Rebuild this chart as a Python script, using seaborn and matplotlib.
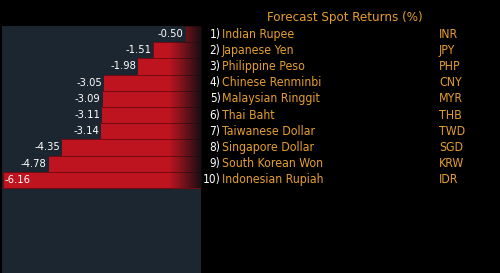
import numpy as np
import pandas as pd
import matplotlib
matplotlib.use("Agg")
import matplotlib.pyplot as plt
import seaborn as sns

# Data
currencies = ["Indian Rupee", "Japanese Yen", "Philippine Peso", "Chinese Renminbi",
              "Malaysian Ringgit", "Thai Baht", "Taiwanese Dollar", "Singapore Dollar",
              "South Korean Won", "Indonesian Rupiah"]
codes = ["INR", "JPY", "PHP", "CNY", "MYR", "THB", "TWD", "SGD", "KRW", "IDR"]
returns = [-0.50, -1.51, -1.98, -3.05, -3.09, -3.11, -3.14, -4.35, -4.78, -6.16]
title = "Forecast Spot Returns (%)"

df = pd.DataFrame({"currency": currencies, "code": codes, "ret": returns})

sns.set_style("dark")
plt.rcParams["font.family"] = ["DejaVu Sans"]
plt.rcParams["font.stretch"] = "condensed"

orange = "#e59e2e"
panel = "#1c2630"
xmin = -6.2

fig = plt.figure(figsize=(5, 2.73), dpi=100, facecolor="black")

# left bar panel
ax = fig.add_axes([0.004, 0.0, 0.398, 0.905])
ax.set_facecolor(panel)
sns.barplot(data=df, x="ret", y="currency", orient="h", color="#bd1420",
            width=1.0, edgecolor="#6e0b10", linewidth=0.6, saturation=1, ax=ax)
ax.set_xlabel("")
ax.set_ylabel("")
ax.set_xticks([])
ax.set_yticks([])
for s in ax.spines.values():
    s.set_visible(False)

# fade of the bars into the dark at the right edge
grad = np.linspace(0, 1, 64).reshape(1, -1)
cmap = matplotlib.colors.LinearSegmentedColormap.from_list(
    "fade", [(0.08, 0.08, 0.09, 0.0), (0.05, 0.05, 0.06, 0.95)])
ax.imshow(grad, cmap=cmap, aspect="auto", extent=(-1.0, 0, len(returns) - 0.5, -0.5),
          zorder=5, interpolation="bicubic")
ax.set_xlim(xmin, 0)
ax.set_ylim(14.75, -0.5)

for i, v in enumerate(returns):
    if v - 0.9 < xmin:
        # no room on the left: label sits inside the bar
        ax.text(xmin + 0.08, i, f"{v:.2f}", ha="left", va="center", color="white",
                fontsize=8, zorder=6)
    else:
        ax.text(v - 0.04, i, f"{v:.2f}", ha="right", va="center", color="white",
                fontsize=8, zorder=6,
                bbox=dict(boxstyle="square,pad=0.2", fc=panel, ec="none"))

# right table
tx = fig.add_axes([0.404, 0.0, 0.596, 0.905])
tx.set_facecolor("black")
tx.set_xlim(0, 1)
tx.set_ylim(14.75, -0.5)
tx.axis("off")
tx.text(0.48, -1.05, title, ha="center", va="center", color=orange, fontsize=9.5,
        clip_on=False)
for i, (name, code) in enumerate(zip(currencies, codes)):
    tx.text(0.062, i, f"{i + 1})", ha="right", va="center", color="white", fontsize=8.5)
    tx.text(0.066, i, name, ha="left", va="center", color=orange, fontsize=8.8)
    tx.text(0.795, i, code, ha="left", va="center", color=orange, fontsize=8.8)

fig.savefig("out.png", dpi=100, facecolor="black")
